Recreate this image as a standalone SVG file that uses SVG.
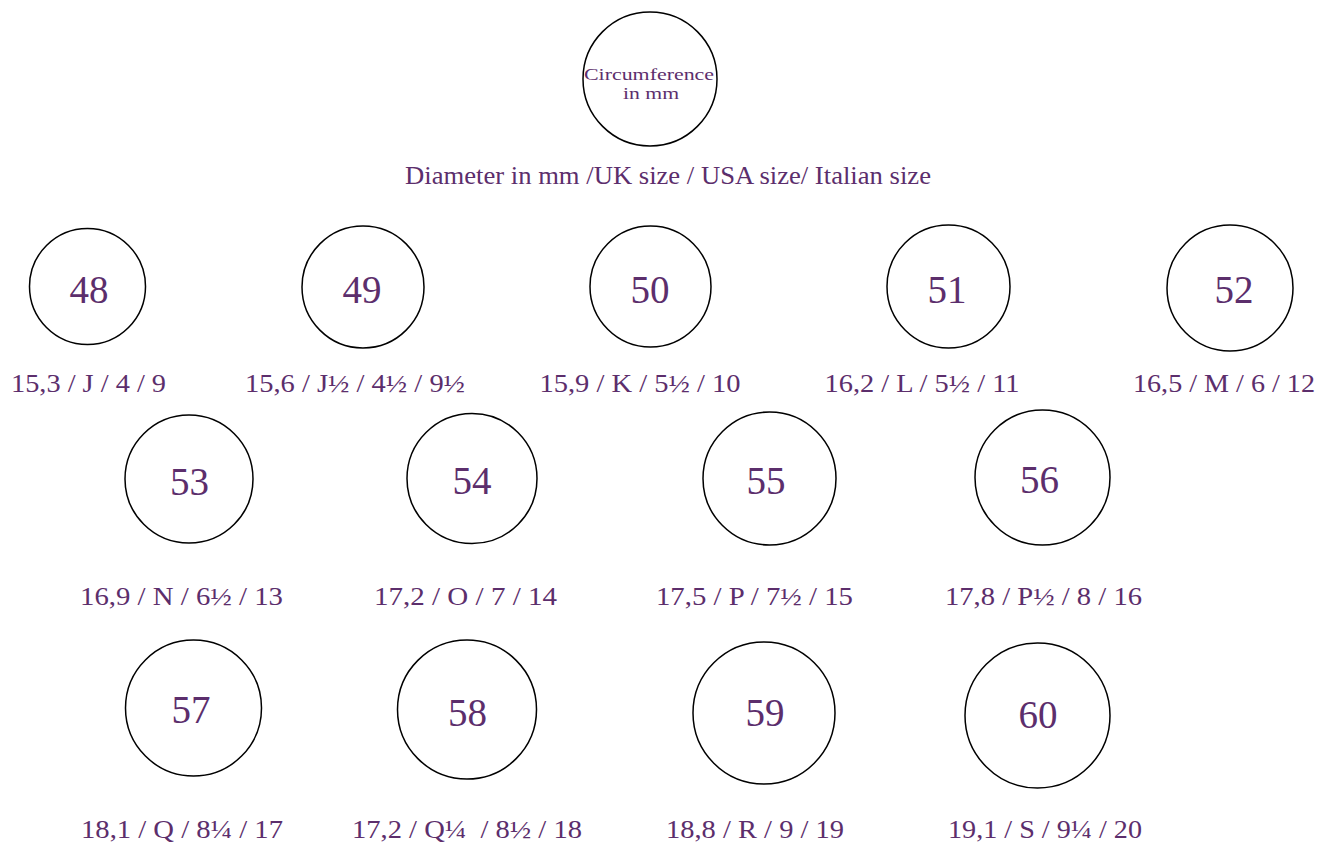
<svg xmlns="http://www.w3.org/2000/svg" width="1332" height="843" viewBox="0 0 1332 843">
<style>
.ring{fill:none;stroke:#000;stroke-width:1.5}
text{font-family:"Liberation Serif","DejaVu Serif",serif;fill:#5c2e6c;text-anchor:middle}
.num{font-size:39px}
.lbl{font-size:25px}
.title{font-size:25px}
.small{font-size:17px}
</style>
<rect width="1332" height="843" fill="#fff"/>
<g id="legend">
<circle class="ring" cx="650" cy="79" r="67"/>
<text class="small" x="649" y="80" textLength="130" lengthAdjust="spacingAndGlyphs">Circumference</text>
<text class="small" x="651" y="99" textLength="56" lengthAdjust="spacingAndGlyphs">in mm</text>
</g>
<g id="title">
<text class="title" x="668" y="184" textLength="526" lengthAdjust="spacingAndGlyphs">Diameter in mm /UK size / USA size/ Italian size</text>
</g>
<g id="connectors"></g>
<g id="s48"><circle class="ring" cx="87.5" cy="286.5" r="58"/><text class="num" x="89" y="303">48</text><text class="lbl" x="88.5" y="392" textLength="155" lengthAdjust="spacingAndGlyphs">15,3 / J / 4 / 9</text></g>
<g id="s49"><circle class="ring" cx="363" cy="287" r="61"/><text class="num" x="362" y="303">49</text><text class="lbl" x="355" y="392" textLength="220" lengthAdjust="spacingAndGlyphs">15,6 / J½ / 4½ / 9½</text></g>
<g id="s50"><circle class="ring" cx="650.5" cy="286.5" r="60.5"/><text class="num" x="650" y="303">50</text><text class="lbl" x="640" y="392" textLength="201" lengthAdjust="spacingAndGlyphs">15,9 / K / 5½ / 10</text></g>
<g id="s51"><circle class="ring" cx="948.5" cy="286.5" r="61.5"/><text class="num" x="947" y="303">51</text><text class="lbl" x="922" y="392" textLength="195" lengthAdjust="spacingAndGlyphs">16,2 / L / 5½ / 11</text></g>
<g id="s52"><circle class="ring" cx="1230" cy="288" r="63"/><text class="num" x="1234" y="303">52</text><text class="lbl" x="1224" y="392" textLength="182" lengthAdjust="spacingAndGlyphs">16,5 / M / 6 / 12</text></g>
<g id="s53"><circle class="ring" cx="189" cy="479" r="64"/><text class="num" x="189.5" y="495">53</text><text class="lbl" x="181.5" y="605" textLength="203" lengthAdjust="spacingAndGlyphs">16,9 / N / 6½ / 13</text></g>
<g id="s54"><circle class="ring" cx="472" cy="478.5" r="65"/><text class="num" x="472" y="494">54</text><text class="lbl" x="465.5" y="605" textLength="183" lengthAdjust="spacingAndGlyphs">17,2 / O / 7 / 14</text></g>
<g id="s55"><circle class="ring" cx="769.5" cy="478.5" r="66.5"/><text class="num" x="766" y="494">55</text><text class="lbl" x="754.5" y="605" textLength="197" lengthAdjust="spacingAndGlyphs">17,5 / P / 7½ / 15</text></g>
<g id="s56"><circle class="ring" cx="1042.5" cy="477.5" r="67.5"/><text class="num" x="1039.5" y="493">56</text><text class="lbl" x="1043.5" y="605" textLength="197" lengthAdjust="spacingAndGlyphs">17,8 / P½ / 8 / 16</text></g>
<g id="s57"><circle class="ring" cx="193.5" cy="708" r="68"/><text class="num" x="191" y="723">57</text><text class="lbl" x="182" y="838" textLength="202" lengthAdjust="spacingAndGlyphs">18,1 / Q / 8¼ / 17</text></g>
<g id="s58"><circle class="ring" cx="467" cy="709.5" r="69.5"/><text class="num" x="467.5" y="726">58</text><text class="lbl" x="467" y="838" textLength="230" lengthAdjust="spacingAndGlyphs" xml:space="preserve">17,2 / Q¼  / 8½ / 18</text></g>
<g id="s59"><circle class="ring" cx="764" cy="713" r="71"/><text class="num" x="765" y="726">59</text><text class="lbl" x="755" y="838" textLength="178" lengthAdjust="spacingAndGlyphs">18,8 / R / 9 / 19</text></g>
<g id="s60"><circle class="ring" cx="1037.5" cy="715.5" r="72.5"/><text class="num" x="1038" y="728">60</text><text class="lbl" x="1045" y="838" textLength="194" lengthAdjust="spacingAndGlyphs">19,1 / S / 9¼ / 20</text></g>
</svg>
